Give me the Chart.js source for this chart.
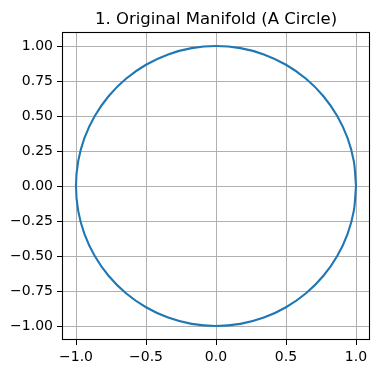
<!DOCTYPE html>
<html>
<head>
<meta charset="utf-8">
<script src="https://cdn.jsdelivr.net/npm/chart.js@4"></script>
<style>
html,body{margin:0;padding:0;background:#fff;}
canvas{display:block;}
</style>
</head>
<body>
<canvas id="c" width="380" height="374"></canvas>
<script>
const titleText = "1. Original Manifold (A Circle)";
const circleX = [1.000,0.985,0.940,0.866,0.766,0.643,0.500,0.342,0.174,0.000,-0.174,-0.342,-0.500,-0.643,-0.766,-0.866,-0.940,-0.985,-1.000,-0.985,-0.940,-0.866,-0.766,-0.643,-0.500,-0.342,-0.174,0.000,0.174,0.342,0.500,0.643,0.766,0.866,0.940,0.985,1.000];
const circleY = [0.000,0.174,0.342,0.500,0.643,0.766,0.866,0.940,0.985,1.000,0.985,0.940,0.866,0.766,0.643,0.500,0.342,0.174,0.000,-0.174,-0.342,-0.500,-0.643,-0.766,-0.866,-0.940,-0.985,-1.000,-0.985,-0.940,-0.866,-0.766,-0.643,-0.500,-0.342,-0.174,0.000];
const xTicks = [-1.0,-0.5,0.0,0.5,1.0];
const xTickLabels = ["\u22121.0","\u22120.5","0.0","0.5","1.0"];
const yTicks = [-1.0,-0.75,-0.5,-0.25,0.0,0.25,0.5,0.75,1.0];
const yTickLabels = ["\u22121.00","\u22120.75","\u22120.50","\u22120.25","0.00","0.25","0.50","0.75","1.00"];

const points = circleX.map((x,i)=>({x:x,y:circleY[i]}));

const framePlugin = {
  id:'frame',
  afterDatasetsDraw(chart){
    const a = chart.chartArea, ctx = chart.ctx;
    ctx.save();
    ctx.strokeStyle = '#000';
    ctx.lineWidth = 1.1;
    ctx.strokeRect(Math.round(a.left)+0.5, Math.round(a.top)+0.5, Math.round(a.right-a.left)-1, Math.round(a.bottom-a.top)-1);
    ctx.fillStyle = '#000';
    ctx.font = '16.5px "DejaVu Sans", sans-serif';
    ctx.textAlign = 'center';
    ctx.textBaseline = 'alphabetic';
    ctx.fillText(titleText, (a.left+a.right)/2, 24);
    ctx.restore();
  }
};

const font = {family:'"DejaVu Sans", sans-serif', size:14};

new Chart(document.getElementById('c'), {
  type:'scatter',
  data:{datasets:[{
    data:points,
    showLine:true,
    borderColor:'#1f77b4',
    borderWidth:2.1,
    pointRadius:0,
    tension:0.3,
    fill:false
  }]},
  options:{
    responsive:false,
    animation:false,
    devicePixelRatio:1,
    layout:{padding:{left:0,right:10,top:32,bottom:0}},
    plugins:{
      legend:{display:false},
      tooltip:{enabled:false},
      title:{display:false}
    },
    scales:{
      x:{type:'linear',min:-1.1,max:1.1,
        afterBuildTicks(s){s.ticks = xTicks.map(v=>({value:v}));},
        afterFit(s){s.height = 34;},
        ticks:{color:'#000',font:font,padding:4,maxRotation:0,autoSkip:false,
          callback(v){const i = xTicks.findIndex(t=>Math.abs(t-v)<1e-9); return i>=0?xTickLabels[i]:'';}},
        grid:{color:'#b0b0b0',lineWidth:1,tickColor:'#000',tickLength:5,tickWidth:1},
        border:{display:false}
      },
      y:{type:'linear',min:-1.1,max:1.1,
        afterBuildTicks(s){s.ticks = yTicks.map(v=>({value:v}));},
        afterFit(s){s.width = 62;},
        ticks:{color:'#000',font:font,padding:4,autoSkip:false,
          callback(v){const i = yTicks.findIndex(t=>Math.abs(t-v)<1e-9); return i>=0?yTickLabels[i]:'';}},
        grid:{color:'#b0b0b0',lineWidth:1,tickColor:'#000',tickLength:5,tickWidth:1},
        border:{display:false}
      }
    }
  },
  plugins:[framePlugin]
});
</script>
</body>
</html>
